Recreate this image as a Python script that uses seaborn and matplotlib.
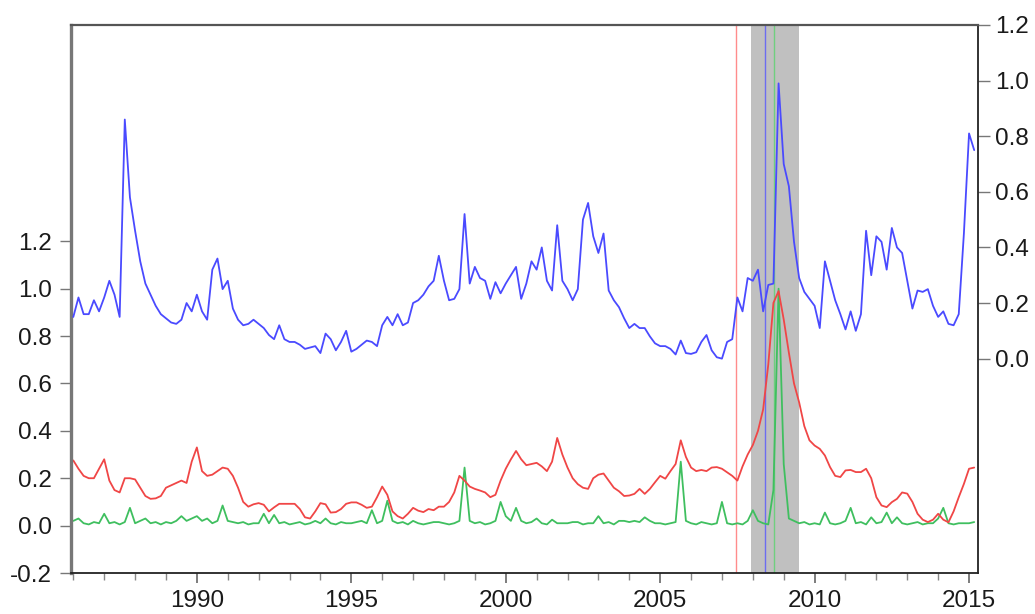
import matplotlib
matplotlib.use('Agg')
import matplotlib.pyplot as plt
from matplotlib.ticker import FixedLocator, FormatStrFormatter
import seaborn as sns
import numpy as np
import pandas as pd

# ------------------------
# Data (bi-monthly readings, Jan 1986 - Mar 2015)
# ------------------------
# blue series -> right axis
blue_vals = [
    0.15, 0.22, 0.16, 0.16, 0.21, 0.17,      # 1986
    0.22, 0.28, 0.23, 0.15, 0.86, 0.58,      # 1987
    0.46, 0.35, 0.27, 0.23, 0.19, 0.16,      # 1988
    0.145, 0.13, 0.125, 0.14, 0.20, 0.17,    # 1989
    0.23, 0.17, 0.14, 0.32, 0.36, 0.25,      # 1990
    0.28, 0.18, 0.14, 0.12, 0.125, 0.14,     # 1991
    0.125, 0.11, 0.085, 0.07, 0.12, 0.07,    # 1992
    0.06, 0.06, 0.05, 0.035, 0.04, 0.045,    # 1993
    0.02, 0.09, 0.07, 0.03, 0.06, 0.10,      # 1994
    0.025, 0.035, 0.05, 0.065, 0.06, 0.045,  # 1995
    0.12, 0.15, 0.12, 0.16, 0.12, 0.13,      # 1996
    0.20, 0.21, 0.23, 0.26, 0.28, 0.37,      # 1997
    0.28, 0.21, 0.215, 0.25, 0.52, 0.27,     # 1998
    0.33, 0.29, 0.28, 0.215, 0.275, 0.235,   # 1999
    0.27, 0.30, 0.33, 0.215, 0.27, 0.35,     # 2000
    0.32, 0.40, 0.28, 0.245, 0.48, 0.28,     # 2001
    0.25, 0.21, 0.25, 0.50, 0.56, 0.44,      # 2002
    0.38, 0.45, 0.245, 0.21, 0.185, 0.145,   # 2003
    0.11, 0.125, 0.11, 0.11, 0.08, 0.055,    # 2004
    0.045, 0.045, 0.035, 0.015, 0.065, 0.02, # 2005
    0.017, 0.023, 0.06, 0.085, 0.03, 0.005,  # 2006
    0.0, 0.06, 0.07, 0.22, 0.17, 0.29,       # 2007
    0.28, 0.32, 0.17, 0.265, 0.27, 0.99,     # 2008
    0.70, 0.62, 0.42, 0.29, 0.24, 0.215,     # 2009
    0.19, 0.11, 0.35, 0.28, 0.21, 0.16,      # 2010
    0.105, 0.17, 0.10, 0.16, 0.46, 0.30,     # 2011
    0.44, 0.42, 0.32, 0.47, 0.40, 0.38,      # 2012
    0.28, 0.18, 0.245, 0.24, 0.25, 0.19,     # 2013
    0.15, 0.17, 0.125, 0.12, 0.16, 0.45,     # 2014
    0.81, 0.75,                              # 2015
]

# red series -> left axis
red_vals = [
    0.275, 0.24, 0.21, 0.20, 0.20, 0.24,
    0.28, 0.19, 0.15, 0.14, 0.20, 0.20,
    0.195, 0.16, 0.125, 0.113, 0.115, 0.125,
    0.16, 0.17, 0.18, 0.19, 0.18, 0.27,
    0.33, 0.23, 0.21, 0.215, 0.23, 0.245,
    0.24, 0.21, 0.16, 0.10, 0.08, 0.09,
    0.095, 0.088, 0.06, 0.077, 0.092, 0.092,
    0.092, 0.092, 0.07, 0.035, 0.03, 0.06,
    0.095, 0.09, 0.055, 0.057, 0.07, 0.092,
    0.098, 0.098, 0.088, 0.075, 0.08, 0.12,
    0.165, 0.13, 0.06, 0.04, 0.03, 0.05,
    0.075, 0.063, 0.057, 0.07, 0.065, 0.08,
    0.08, 0.10, 0.14, 0.21, 0.19, 0.165,
    0.155, 0.148, 0.14, 0.12, 0.13, 0.19,
    0.24, 0.28, 0.315, 0.28, 0.255, 0.26,
    0.265, 0.25, 0.23, 0.27, 0.37, 0.30,
    0.245, 0.20, 0.175, 0.16, 0.155, 0.20,
    0.215, 0.22, 0.19, 0.16, 0.145, 0.125,
    0.127, 0.134, 0.155, 0.134, 0.155, 0.183,
    0.21, 0.198, 0.23, 0.26, 0.36, 0.29,
    0.245, 0.23, 0.235, 0.23, 0.245, 0.247,
    0.24, 0.225, 0.21, 0.19, 0.25, 0.30,
    0.34, 0.40, 0.49, 0.68, 0.94, 0.99,
    0.87, 0.73, 0.60, 0.52, 0.42, 0.36,
    0.338, 0.324, 0.296, 0.247, 0.21, 0.205,
    0.233, 0.235, 0.226, 0.226, 0.24, 0.20,
    0.12, 0.085, 0.078, 0.099, 0.113, 0.14,
    0.135, 0.10, 0.05, 0.025, 0.015, 0.025,
    0.05, 0.025, 0.014, 0.06, 0.12, 0.176,
    0.24, 0.245,
]

# green series -> left axis
green_vals = [
    0.02, 0.03, 0.01, 0.005, 0.015, 0.01,
    0.05, 0.01, 0.015, 0.005, 0.015, 0.075,
    0.01, 0.02, 0.03, 0.01, 0.015, 0.005,
    0.015, 0.01, 0.02, 0.04, 0.02, 0.03,
    0.04, 0.02, 0.03, 0.01, 0.02, 0.085,
    0.02, 0.015, 0.01, 0.015, 0.005, 0.01,
    0.01, 0.05, 0.01, 0.045, 0.01, 0.015,
    0.005, 0.01, 0.015, 0.005, 0.01, 0.02,
    0.01, 0.03, 0.01, 0.005, 0.015, 0.01,
    0.01, 0.015, 0.02, 0.01, 0.065, 0.01,
    0.02, 0.105, 0.02, 0.01, 0.015, 0.005,
    0.02, 0.01, 0.005, 0.01, 0.015, 0.015,
    0.01, 0.005, 0.01, 0.02, 0.245, 0.02,
    0.01, 0.015, 0.005, 0.01, 0.02, 0.10,
    0.04, 0.02, 0.075, 0.02, 0.01, 0.015,
    0.03, 0.01, 0.005, 0.025, 0.01, 0.01,
    0.01, 0.015, 0.015, 0.005, 0.01, 0.01,
    0.04, 0.01, 0.015, 0.005, 0.02, 0.02,
    0.015, 0.02, 0.015, 0.035, 0.02, 0.01,
    0.01, 0.005, 0.01, 0.015, 0.27, 0.02,
    0.01, 0.005, 0.015, 0.01, 0.005, 0.01,
    0.10, 0.01, 0.005, 0.01, 0.005, 0.02,
    0.065, 0.02, 0.01, 0.005, 0.15, 1.0,
    0.26, 0.03, 0.02, 0.01, 0.015, 0.005,
    0.01, 0.005, 0.055, 0.01, 0.005, 0.01,
    0.02, 0.075, 0.01, 0.015, 0.005, 0.035,
    0.01, 0.015, 0.055, 0.01, 0.035, 0.01,
    0.005, 0.01, 0.015, 0.005, 0.01, 0.01,
    0.03, 0.075, 0.01, 0.005, 0.01, 0.01,
    0.01, 0.015,
]

dates = pd.date_range('1986-01-01', periods=len(blue_vals), freq='2MS')
years = dates.year + (dates.month - 1) / 12

# shaded recession band and event lines (decimal years)
shade_start, shade_end = 2007.95, 2009.48
vline_red, vline_blue, vline_green = 2007.44, 2008.41, 2008.67

left_ticks = [-0.2, 0.0, 0.2, 0.4, 0.6, 0.8, 1.0, 1.2]
right_ticks = [0.0, 0.2, 0.4, 0.6, 0.8, 1.0, 1.2]
year_labels = [1990, 1995, 2000, 2005, 2010, 2015]

df = pd.DataFrame({'year': years, 'blue': blue_vals, 'red': red_vals, 'green': green_vals})

# ------------------------
# Plot
# ------------------------
sns.set_style('white')
plt.rcParams['font.family'] = ['Liberation Sans', 'DejaVu Sans']

fig = plt.figure(figsize=(10.35, 6.14), dpi=100)
ax = fig.add_axes([71 / 1035, 1 - 573 / 614, (978 - 71) / 1035, (573 - 25) / 614])
ax2 = ax.twinx()

ax.axvspan(shade_start, shade_end, color='#c0c0c0', lw=0, zorder=0)
ax.axvline(vline_red, color='#ff8c8c', lw=1.0, zorder=1)
ax.axvline(vline_blue, color='#6c6cf0', lw=1.0, zorder=1)
ax.axvline(vline_green, color='#6fcf7f', lw=1.0, zorder=1)

sns.lineplot(data=df, x='year', y='green', ax=ax, color='#3fbf5f', lw=1.3, zorder=3)
sns.lineplot(data=df, x='year', y='red', ax=ax, color='#f04646', lw=1.3, zorder=4)
sns.lineplot(data=df, x='year', y='blue', ax=ax2, color='#4a4aff', lw=1.3, zorder=5)

ax.set_xlim(1985.925, 2015.29)
ax.set_ylim(-0.2, 2.113)
ax2.set_ylim(-0.771, 1.2)

ax.set_xlabel('')
ax.set_ylabel('')
ax2.set_ylabel('')

ax.xaxis.set_major_locator(FixedLocator(year_labels))
ax.xaxis.set_minor_locator(FixedLocator(list(range(1986, 2016))))
ax.set_xticklabels([str(y) for y in year_labels])
ax.yaxis.set_major_locator(FixedLocator(left_ticks))
ax.yaxis.set_major_formatter(FormatStrFormatter('%.1f'))
ax2.yaxis.set_major_locator(FixedLocator(right_ticks))
ax2.yaxis.set_major_formatter(FormatStrFormatter('%.1f'))

ax.tick_params(axis='x', which='major', direction='out', length=7, width=1.2,
               color='#666666', labelsize=17.5, labelcolor='#1a1a1a', pad=5, bottom=True)
ax.tick_params(axis='x', which='minor', direction='out', length=5, width=1.0,
               color='#888888', bottom=True)
ax.tick_params(axis='y', direction='out', length=8, width=1.0, color='#777777',
               labelsize=17.5, labelcolor='#1a1a1a', pad=6, left=True, right=False)
ax2.tick_params(axis='y', direction='out', length=8.5, width=1.0, color='#777777',
                labelsize=17.5, labelcolor='#1a1a1a', pad=4, right=True, left=False)

for sp in ax.spines.values():
    sp.set_visible(False)
ax2.spines['left'].set_color('#777777')
ax2.spines['left'].set_linewidth(2.4)
ax2.spines['top'].set_color('#555555')
ax2.spines['top'].set_linewidth(1.6)
ax2.spines['right'].set_color('#222222')
ax2.spines['right'].set_linewidth(1.3)
ax2.spines['bottom'].set_color('#222222')
ax2.spines['bottom'].set_linewidth(1.3)

fig.savefig('out.png', dpi=100)
plt.close(fig)
